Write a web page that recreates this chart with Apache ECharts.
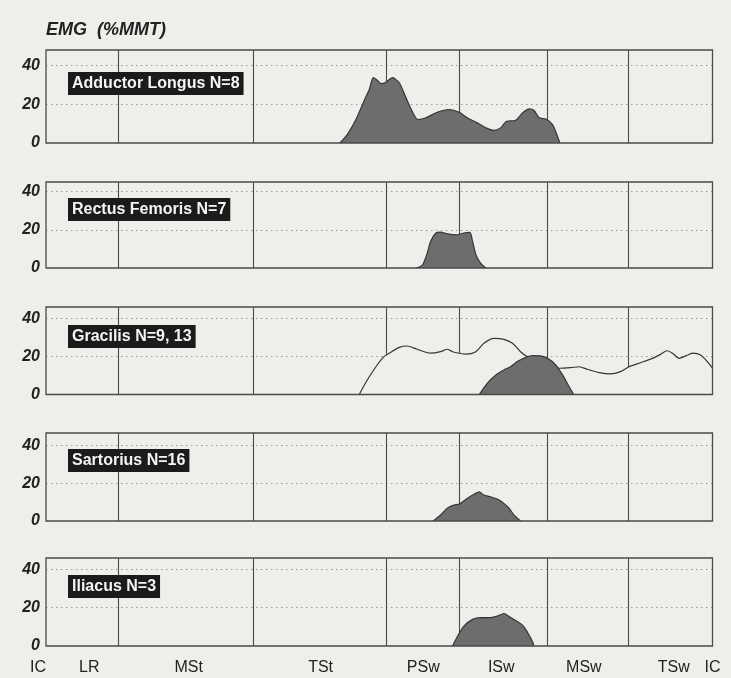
<!DOCTYPE html>
<html>
<head>
<meta charset="utf-8">
<script src="https://cdn.jsdelivr.net/npm/echarts@6/dist/echarts.min.js"></script>
<style>
  html, body { margin: 0; padding: 0; background: #efeeea; }
  #chart { width: 731px; height: 678px; }
</style>
</head>
<body>
<div id="chart"></div>
<script>
// Hip muscle EMG during the gait cycle, as % of manual muscle test (x = % gait cycle).
const muscleNames = ['Adductor Longus N=8', 'Rectus Femoris N=7', 'Gracilis N=9, 13', 'Sartorius N=16', 'Iliacus N=3'];

const adductorLongus = [[44.1,0],[45.2,4.3],[46.5,12.1],[47.7,21.6],[48.5,27.6],[49.1,33.7],[49.7,32.4],[50.3,30.6],[51,31.4],[52,33.7],[53,31.1],[53.7,25.9],[54.7,18.1],[55.8,12.1],[57,13],[58.7,15.9],[60.5,17.3],[62,15.9],[63.2,13],[64.7,10.4],[66,7.8],[67.2,6.5],[68.2,7.8],[69.1,11.2],[70.4,11.6],[71.5,15.5],[72.5,17.6],[73.2,16.9],[74,13],[75,12.4],[76,9.5],[76.6,4.8],[77.1,0]];

const rectusFemoris = [[55.5,0],[56.5,1.7],[57.2,7.8],[57.7,13.9],[58.5,18.3],[59.2,18.8],[60.2,17.9],[61.7,17.4],[62.7,18.3],[63.6,18.6],[64,13.9],[64.5,7],[65.2,2.6],[66,0]];

// Gracilis: two data sets (outlined and shaded)
const gracilisOutline = [[47,0],[48.2,7.6],[49.5,14.6],[50.7,19.9],[51.5,21.7],[53,24.8],[54.2,25.5],[55.7,23.8],[57.7,21.7],[59.2,22.5],[60.2,23.8],[61,22.5],[62,21.7],[63,21.2],[64.5,22.5],[65.7,26.9],[67.2,29.5],[68.7,29],[70,26.9],[71.2,22.5],[72.2,19.9],[74,17.5],[75.5,15.5],[77,13.8],[78.7,14.1],[80,14.6],[81.2,13.3],[83,11.5],[84.7,10.8],[86.2,12],[87.5,14.6],[89.2,16.7],[91,19],[92.2,21.1],[93.2,23],[94,21.7],[95,19],[96,20.3],[97,21.7],[98.2,20.8],[99.2,17.4],[100,13.8]];
const gracilisShaded = [[65,0],[66.2,5.9],[67.5,10.3],[68.7,12.9],[69.7,14.6],[70.7,17.3],[72,19.6],[73,20.4],[74.2,20.3],[75.5,18.5],[76.5,15.5],[77.5,10.3],[78.5,4.1],[79.2,0]];

const sartorius = [[58.1,0],[59.2,3.2],[60.2,6.7],[61.2,8.4],[62,8.9],[63,11.4],[64,13.7],[65,15.4],[65.7,13.7],[66.7,12.8],[68,11.1],[68.7,9.3],[69.5,6.7],[70.2,3.2],[71.2,0]];

const iliacus = [[61,0],[61.7,4.8],[62.7,10.4],[64,13.9],[65.2,14.8],[66.5,14.8],[67.7,15.6],[68.7,17],[69.2,16.1],[70.2,13.9],[71.5,10.9],[72.2,7.4],[73,2.2],[73.2,0]];

// Gait phase boundaries (% cycle) and phase labels along the bottom axis
const phaseBounds = [10.8, 31.1, 51, 62, 75.2, 87.3];
const phaseNames = ['IC', 'LR', 'MSt', 'TSt', 'PSw', 'ISw', 'MSw', 'TSw', 'IC'];
const phaseLabelAt = [0, 6.5, 21.4, 41.2, 56.6, 68.3, 80.7, 94.2, 100];

const yTicks = [0, 20, 40];
const yMax = [48, 45, 46, 46.5, 46];

const FONT = "'Liberation Sans', Arial, Helvetica, sans-serif";
const BG = '#efeeea';
const INK = '#222';
const FILL = '#6d6d6d';

const panels = [
  { top: 50, height: 93, boxTop: 72 },
  { top: 182, height: 86, boxTop: 198 },
  { top: 307, height: 87.5, boxTop: 325 },
  { top: 433, height: 88, boxTop: 449 },
  { top: 558, height: 88, boxTop: 575 }
];

// Frame drawn above the traces so shaded areas never hide it
const grids = panels.map(p => ({
  left: 46, right: 18.5, top: p.top, height: p.height, z: 4,
  show: true, borderColor: '#4a4a4a', borderWidth: 1.3, backgroundColor: 'transparent'
}));

const xAxes = panels.map((p, i) => {
  const last = i === panels.length - 1;
  return {
    type: 'value', gridIndex: i, min: 0, max: 100,
    axisLine: { show: false }, axisTick: { show: false }, splitLine: { show: false },
    axisLabel: last ? {
      show: true,
      customValues: phaseLabelAt,
      formatter: v => {
        const k = phaseLabelAt.findIndex(a => Math.abs(a - v) < 1e-6);
        return k >= 0 ? phaseNames[k] : '';
      },
      alignMinLabel: 'right',
      alignMaxLabel: 'center',
      margin: 14,
      fontFamily: FONT, fontSize: 16, color: INK
    } : { show: false }
  };
});

const yAxes = panels.map((p, i) => ({
  type: 'value', gridIndex: i, min: 0, max: yMax[i], interval: 20,
  axisLine: { show: false }, axisTick: { show: false }, splitLine: { show: false },
  axisLabel: {
    customValues: yTicks,
    margin: 6,
    fontFamily: FONT, fontSize: 16, fontWeight: 'bold', fontStyle: 'italic', color: INK
  }
}));

// Dotted level lines and solid phase dividers, kept beneath the traces
function guides() {
  const lines = yTicks.filter(v => v > 0).map(v => ({
    yAxis: v, lineStyle: { type: [1.5, 3.5], color: '#9a9a9a', width: 1.2 }
  }));
  phaseBounds.forEach(b => lines.push({
    xAxis: b, lineStyle: { type: 'solid', color: '#4a4a4a', width: 1.1 }
  }));
  return { z: 1, silent: true, symbol: 'none', animation: false, label: { show: false }, data: lines };
}

function trace(idx, data, fill, z, withGuides) {
  const s = {
    type: 'line', xAxisIndex: idx, yAxisIndex: idx, data: data, z: z,
    smooth: 0.25, symbol: 'none', silent: true, animation: false,
    lineStyle: { color: '#353535', width: 1.2 },
    areaStyle: { color: fill, opacity: 1 }
  };
  if (withGuides) s.markLine = guides();
  return s;
}

const series = [
  trace(0, adductorLongus, FILL, 3, true),
  trace(1, rectusFemoris, FILL, 3, true),
  trace(2, gracilisOutline, BG, 2, true),
  trace(2, gracilisShaded, FILL, 3, false),
  trace(3, sartorius, FILL, 3, true),
  trace(4, iliacus, FILL, 3, true)
];

const titles = [{
  text: 'EMG  (%MMT)', left: 46, top: 21, padding: 0,
  textStyle: { fontFamily: FONT, fontSize: 18, fontWeight: 'bold', fontStyle: 'italic', color: INK }
}].concat(panels.map((p, i) => ({
  text: muscleNames[i], left: 68, top: p.boxTop, padding: [3, 4, 3, 4],
  backgroundColor: '#1b1b1b',
  textStyle: { fontFamily: FONT, fontSize: 16, fontWeight: 'bold', color: '#f4f4f4', lineHeight: 17 }
})));

const chart = echarts.init(document.getElementById('chart'), null, { renderer: 'canvas' });
chart.setOption({
  backgroundColor: BG,
  animation: false,
  title: titles,
  grid: grids,
  xAxis: xAxes,
  yAxis: yAxes,
  series: series
});
</script>
</body>
</html>
